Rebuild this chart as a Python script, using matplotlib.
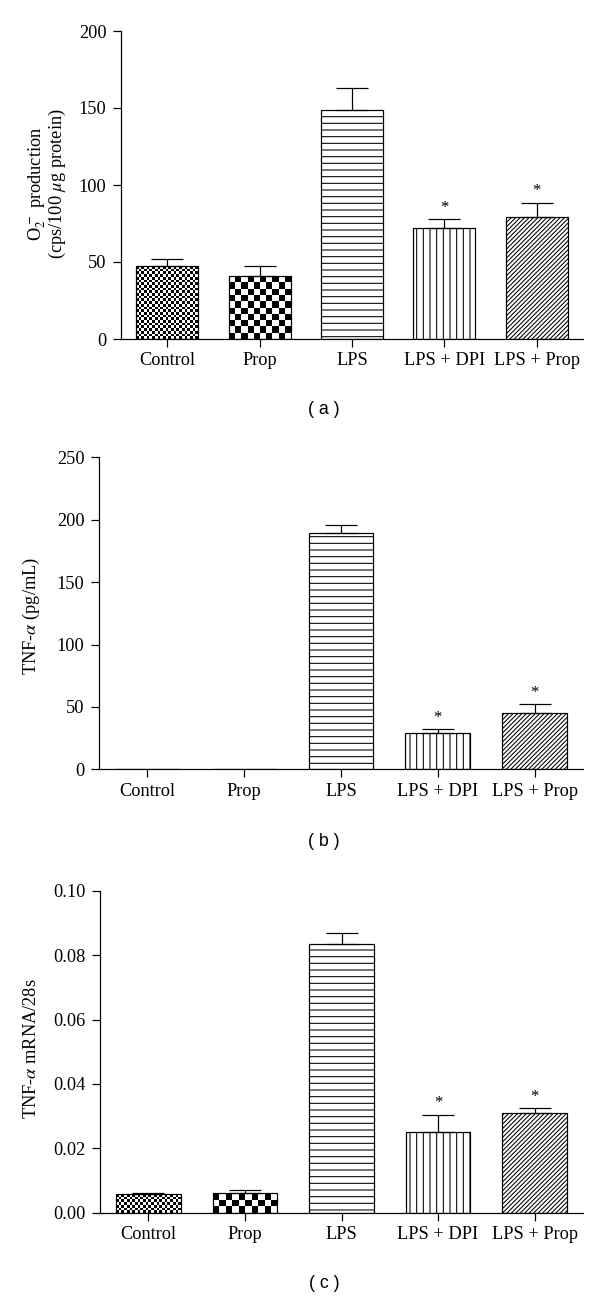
"""Three stacked bar panels: O2- production, TNF-alpha protein and TNF-alpha mRNA"""

import numpy as np
import matplotlib
matplotlib.use("Agg")
import matplotlib.pyplot as plt

# Data
groups = ["Control", "Prop", "LPS", "LPS + DPI", "LPS + Prop"]

o2_mean = [47.4, 40.9, 148.9, 72.3, 79.0]
o2_err = [4.6, 6.5, 13.9, 5.6, 9.5]

tnf_mean = [0, 0, 189.6, 29.1, 45.1]
tnf_err = [0, 0, 6.4, 3.2, 7.0]

mrna_mean = [0.0057, 0.0062, 0.0835, 0.0251, 0.0309]
mrna_err = [0.0005, 0.0008, 0.0033, 0.0053, 0.0015]

stars = [False, False, False, True, True]

plt.rcParams["font.family"] = ["Liberation Serif", "DejaVu Serif"]
plt.rcParams["mathtext.fontset"] = "stix"
plt.rcParams["hatch.linewidth"] = 0.95

DPI = 80
LW = 1.1


def checker(ax, bar, cell_px):
    """Fill a bar with a black/white checkerboard of roughly cell_px squares"""
    x0, y0 = bar.get_x(), bar.get_y()
    w, h = bar.get_width(), bar.get_height()
    if h <= 0:
        return
    (px0, py0), (px1, py1) = ax.transData.transform([(x0, y0), (x0 + w, y0 + h)])
    ncol = max(1, int(round((px1 - px0) / cell_px)))
    nrow = max(1, int(round((py1 - py0) / cell_px)))
    grid = np.add.outer(np.arange(nrow), np.arange(ncol)) % 2
    im = ax.imshow(grid, cmap="gray", extent=(x0, x0 + w, y0, y0 + h),
                   aspect="auto", interpolation="nearest", origin="lower",
                   zorder=1.5)
    im.set_clip_path(bar)


def panel(ax, means, errs, ylim, yticks, fmt):
    x = np.arange(len(groups))
    ax.set_xlim(-0.5, 4.5)
    ax.set_ylim(*ylim)

    hatches = [None, None, "--", "||", "//////"]
    bars = ax.bar(x, means, width=0.67, facecolor="white", edgecolor="black",
                  linewidth=LW, zorder=2)
    for b, ht in zip(bars, hatches):
        if ht:
            b.set_hatch(ht)
    # checkerboard fills for the first two groups
    for b in bars[:2]:
        b.set_facecolor("none")
        b.set_zorder(3)
    checker(ax, bars[0], 2.7)
    checker(ax, bars[1], 6.5)

    shown = [i for i in x if means[i] > 0]
    ax.errorbar([x[i] for i in shown], [means[i] for i in shown],
                yerr=[[0] * len(shown), [errs[i] for i in shown]],
                fmt="none", ecolor="black", elinewidth=LW, capsize=14,
                capthick=LW, zorder=4)

    for i in x:
        if stars[i]:
            ax.annotate("*", (x[i], means[i] + errs[i]), xytext=(0, 3),
                        textcoords="offset points", ha="center", va="bottom",
                        fontsize=15)

    ax.set_xlim(-0.5, 4.5)
    ax.set_ylim(*ylim)
    ax.set_xticks(x)
    ax.set_xticklabels(groups)
    ax.set_yticks(yticks)
    ax.set_yticklabels([fmt.format(v) for v in yticks])
    ax.spines["top"].set_visible(False)
    ax.spines["right"].set_visible(False)
    ax.spines["left"].set_linewidth(LW)
    ax.spines["bottom"].set_linewidth(LW)
    ax.tick_params(axis="both", direction="out", length=7, width=LW,
                   labelsize=16.5)
    ax.tick_params(axis="x", pad=5)
    ax.tick_params(axis="y", pad=6)


def main():
    W, H = 600, 1303
    fig = plt.figure(figsize=(W / DPI, H / DPI), dpi=DPI)

    def add_axes(left, right, y0, ytop):
        return fig.add_axes([left / W, 1 - y0 / H, (right - left) / W, (y0 - ytop) / H])

    ax_a = add_axes(121, 583, 339, 31)
    ax_b = add_axes(99, 583, 769.3, 457.3)
    ax_c = add_axes(100, 583, 1212.7, 890.7)

    panel(ax_a, o2_mean, o2_err, (0, 200), [0, 50, 100, 150, 200], "{:.0f}")
    panel(ax_b, tnf_mean, tnf_err, (0, 250), [0, 50, 100, 150, 200, 250], "{:.0f}")
    panel(ax_c, mrna_mean, mrna_err, (0, 0.10),
          [0.0, 0.02, 0.04, 0.06, 0.08, 0.10], "{:.2f}")

    # Y labels
    fig.text(47 / W, 1 - 184 / H,
             "O$_2^{\\,-}$ production\n(cps/100 $\\mu$g protein)",
             rotation=90, ha="center", va="center", multialignment="center",
             fontsize=16.5, linespacing=0.95)
    fig.text(31.5 / W, 1 - 616 / H, "TNF-$\\alpha$ (pg/mL)",
             rotation=90, ha="center", va="center", fontsize=16.5)
    fig.text(31.5 / W, 1 - 1049 / H, "TNF-$\\alpha$ mRNA/28s",
             rotation=90, ha="center", va="center", fontsize=16.5)

    # Panel captions
    for y, lab in [(410, "( a )"), (842, "( b )"), (1284, "( c )")]:
        fig.text(324 / W, 1 - y / H, lab, ha="center", va="center",
                 fontsize=16, family=["Liberation Sans", "DejaVu Sans"])

    fig.savefig("out.png", dpi=DPI, facecolor="white")


if __name__ == "__main__":
    main()
